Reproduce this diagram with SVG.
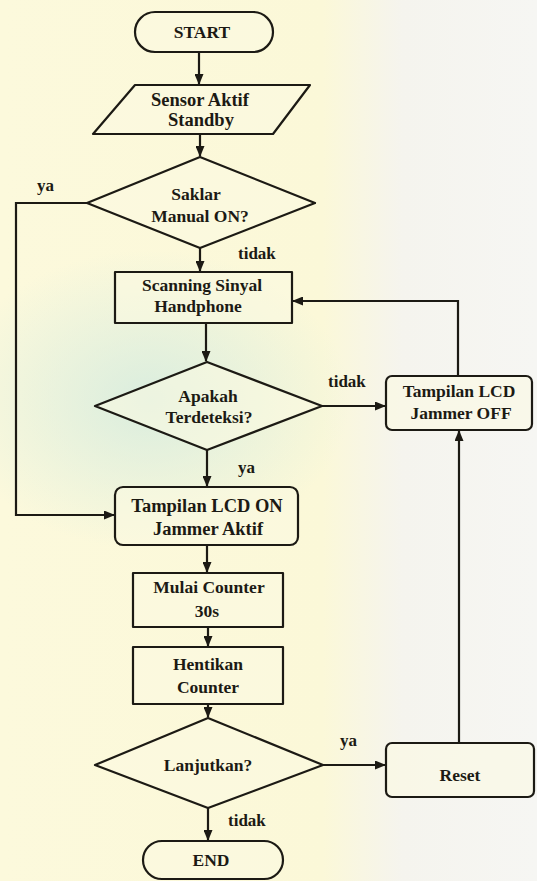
<svg xmlns="http://www.w3.org/2000/svg" width="537" height="881" viewBox="0 0 537 881">
<style>
.shape{fill:#fcfae2;fill-opacity:0.55;stroke:#1c1a14;stroke-width:2.2;stroke-linejoin:round}
.edge{fill:none;stroke:#1c1a14;stroke-width:2.2}
.t{font-family:"Liberation Serif","Times New Roman",serif;font-size:17.5px;font-weight:bold;fill:#1c1a14;text-anchor:middle}
.big{font-size:18.5px}
.lb{font-family:"Liberation Serif","Times New Roman",serif;font-size:17px;font-weight:bold;fill:#1c1a14}
</style>
<defs>
<linearGradient id="bg" x1="0" y1="0" x2="1" y2="0">
<stop offset="0" stop-color="#fcf9dc"/>
<stop offset="0.6" stop-color="#fbf8d8"/>
<stop offset="0.75" stop-color="#f5f4ee"/>
<stop offset="1" stop-color="#f6f6f3"/>
</linearGradient>
<radialGradient id="teal" cx="0.5" cy="0.5" r="0.5">
<stop offset="0" stop-color="#d6ecdf" stop-opacity="0.9"/>
<stop offset="1" stop-color="#d6ecdf" stop-opacity="0"/>
</radialGradient>
<marker id="ah" markerWidth="11" markerHeight="9" refX="10" refY="4.5" orient="auto" markerUnits="userSpaceOnUse">
<path d="M0,0 L11,4.5 L0,9 Z" fill="#1c1a14"/>
</marker>
</defs>
<rect width="537" height="881" fill="url(#bg)"/>
<ellipse cx="150" cy="400" rx="200" ry="150" fill="url(#teal)"/>

<g id="connectors">
<path class="edge" d="M199,52 V84" marker-end="url(#ah)"/>
<path class="edge" d="M200,134 V156" marker-end="url(#ah)"/>
<path class="edge" d="M200,248 V271" marker-end="url(#ah)"/>
<path class="edge" d="M87,203 H16 V515 H114" marker-end="url(#ah)"/>
<path class="edge" d="M206,323 V361" marker-end="url(#ah)"/>
<path class="edge" d="M322,406 H385" marker-end="url(#ah)"/>
<path class="edge" d="M207,450 V486" marker-end="url(#ah)"/>
<path class="edge" d="M207,545 V572" marker-end="url(#ah)"/>
<path class="edge" d="M208,627 V646" marker-end="url(#ah)"/>
<path class="edge" d="M208,704 V717" marker-end="url(#ah)"/>
<path class="edge" d="M323,765 H385" marker-end="url(#ah)"/>
<path class="edge" d="M459,743 V431" marker-end="url(#ah)"/>
<path class="edge" d="M458,376 V301 H293" marker-end="url(#ah)"/>
<path class="edge" d="M208,808 V840" marker-end="url(#ah)"/>
<text class="lb" x="37" y="191">ya</text>
<text class="lb" x="238" y="259">tidak</text>
<text class="lb" x="328" y="387">tidak</text>
<text class="lb" x="238" y="473">ya</text>
<text class="lb" x="340" y="746">ya</text>
<text class="lb" x="228" y="826">tidak</text>
</g>

<g id="start">
<rect class="shape" x="135" y="12" width="138" height="40" rx="20"/>
<text class="t" x="202" y="38">START</text>
</g>
<g id="sensor">
<polygon class="shape" points="135,85 310,85 273,134 93,134"/>
<text class="t big" x="200" y="106">Sensor Aktif</text>
<text class="t big" x="201" y="126">Standby</text>
</g>
<g id="saklar">
<polygon class="shape" points="200,157 315,203 200,248 87,203"/>
<text class="t" x="196" y="200">Saklar</text>
<text class="t" x="200" y="222">Manual ON?</text>
</g>
<g id="scanning">
<rect class="shape" x="115" y="272" width="177" height="51"/>
<text class="t" x="202" y="291">Scanning Sinyal</text>
<text class="t" x="198" y="312">Handphone</text>
</g>
<g id="apakah">
<polygon class="shape" points="207,362 322,406 207,450 95,406"/>
<text class="t" x="208" y="402">Apakah</text>
<text class="t" x="209" y="423">Terdeteksi?</text>
</g>
<g id="lcdoff">
<rect class="shape" x="386" y="376" width="146" height="54" rx="6"/>
<text class="t" x="459" y="397">Tampilan LCD</text>
<text class="t" x="461" y="419">Jammer OFF</text>
</g>
<g id="lcdon">
<rect class="shape" x="115" y="487" width="183" height="58" rx="8"/>
<text class="t big" x="207" y="512">Tampilan LCD ON</text>
<text class="t big" x="208" y="535">Jammer Aktif</text>
</g>
<g id="mulai">
<rect class="shape" x="133" y="573" width="150" height="54"/>
<text class="t" x="209" y="593">Mulai Counter</text>
<text class="t" x="207" y="617">30s</text>
</g>
<g id="hentikan">
<rect class="shape" x="133" y="647" width="150" height="57"/>
<text class="t" x="208" y="670">Hentikan</text>
<text class="t" x="208" y="693">Counter</text>
</g>
<g id="lanjutkan">
<polygon class="shape" points="208,718 323,765 208,808 95,765"/>
<text class="t" x="208" y="771">Lanjutkan?</text>
</g>
<g id="reset">
<rect class="shape" x="386" y="743" width="148" height="54" rx="6"/>
<text class="t" x="460" y="781">Reset</text>
</g>
<g id="end">
<rect class="shape" x="143" y="841" width="140" height="38" rx="19"/>
<text class="t" x="211" y="866">END</text>
</g>
</svg>
